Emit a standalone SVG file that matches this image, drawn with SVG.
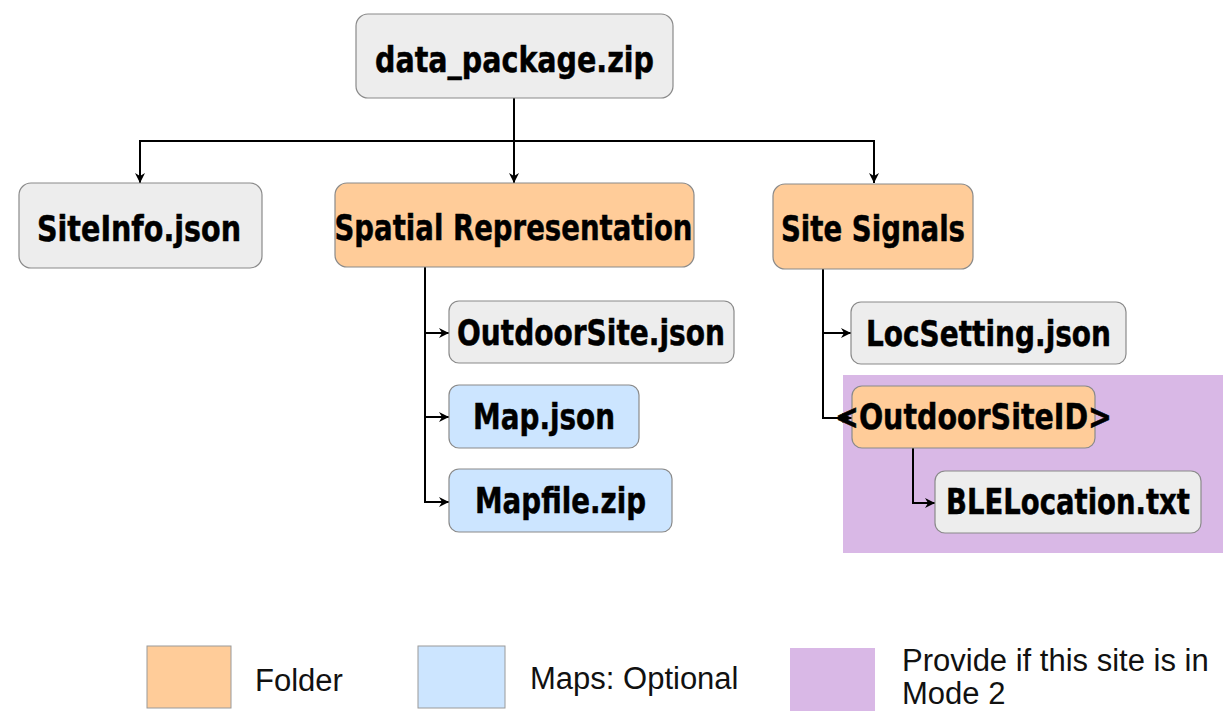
<svg xmlns="http://www.w3.org/2000/svg" width="1223" height="711" viewBox="0 0 1223 711">
<style>
.box{stroke:#8a8a8a;stroke-width:1.2}
.gray{fill:#ededed}
.orange{fill:#ffcc99}
.blue{fill:#cce5ff}
.lbl{font-family:"DejaVu Sans",Verdana,sans-serif;font-weight:bold;font-size:35px;fill:#000;stroke:#000;stroke-width:0.5;text-anchor:middle}
.leg{font-family:"Liberation Sans",Arial,sans-serif;font-size:31px;fill:#111}
.conn{fill:none;stroke:#000;stroke-width:2}
</style>
<defs>
<marker id="arr" markerWidth="12" markerHeight="12" refX="10" refY="5" orient="auto" markerUnits="userSpaceOnUse">
<path d="M0,0 L10,5 L0,10 L3,5 z" fill="#000"/>
</marker>
</defs>
<rect x="0" y="0" width="1223" height="711" fill="#ffffff"/>
<rect id="mode2-region" x="843" y="375" width="380" height="178" fill="#d9b8e6"/>
<g id="connectors">
<path class="conn" d="M514,98 V183" marker-end="url(#arr)"/>
<path class="conn" d="M514,141 H140 V183" marker-end="url(#arr)"/>
<path class="conn" d="M514,141 H874 V183" marker-end="url(#arr)"/>
<path class="conn" d="M425,267 V502 H449" marker-end="url(#arr)"/>
<path class="conn" d="M425,333 H449" marker-end="url(#arr)"/>
<path class="conn" d="M425,417 H449" marker-end="url(#arr)"/>
<path class="conn" d="M823,269 V418 H852" marker-end="url(#arr)"/>
<path class="conn" d="M823,333 H851" marker-end="url(#arr)"/>
<path class="conn" d="M913,448 V503 H935" marker-end="url(#arr)"/>
</g>
<g id="data_package">
<rect class="box gray" x="356" y="14" width="317" height="84" rx="12"/>
<text class="lbl" x="514.5" y="72" textLength="279" lengthAdjust="spacingAndGlyphs">data_package.zip</text>
</g>
<g id="siteinfo">
<rect class="box gray" x="19" y="183" width="243" height="85" rx="12"/>
<text class="lbl" x="139" y="241" textLength="204" lengthAdjust="spacingAndGlyphs">SiteInfo.json</text>
</g>
<g id="spatial">
<rect class="box orange" x="335" y="183" width="359" height="84" rx="12"/>
<text class="lbl" x="513.5" y="240" textLength="358" lengthAdjust="spacingAndGlyphs">Spatial Representation</text>
</g>
<g id="sitesignals">
<rect class="box orange" x="773" y="184" width="200" height="85" rx="12"/>
<text class="lbl" x="873" y="241" textLength="184" lengthAdjust="spacingAndGlyphs">Site Signals</text>
</g>
<g id="outdoorsite">
<rect class="box gray" x="449" y="301" width="285" height="62" rx="10"/>
<text class="lbl" x="591" y="345" textLength="268" lengthAdjust="spacingAndGlyphs">OutdoorSite.json</text>
</g>
<g id="mapjson">
<rect class="box blue" x="449" y="385" width="190" height="63" rx="10"/>
<text class="lbl" x="544" y="429" textLength="142" lengthAdjust="spacingAndGlyphs">Map.json</text>
</g>
<g id="mapfile">
<rect class="box blue" x="449" y="469" width="223" height="63" rx="10"/>
<text class="lbl" x="560.5" y="513" textLength="171" lengthAdjust="spacingAndGlyphs">Mapfile.zip</text>
</g>
<g id="locsetting">
<rect class="box gray" x="851" y="302" width="275" height="62" rx="10"/>
<text class="lbl" x="988.5" y="346" textLength="245" lengthAdjust="spacingAndGlyphs">LocSetting.json</text>
</g>
<g id="outdoorsiteid">
<rect class="box orange" x="852" y="386" width="243" height="62" rx="10"/>
<text class="lbl" x="973.5" y="429" textLength="277" lengthAdjust="spacingAndGlyphs">&lt;OutdoorSiteID&gt;</text>
</g>
<g id="blelocation">
<rect class="box gray" x="935" y="471" width="266" height="62" rx="10"/>
<text class="lbl" x="1068" y="514" textLength="244" lengthAdjust="spacingAndGlyphs">BLELocation.txt</text>
</g>
<g id="legend">
<rect x="147" y="646" width="84" height="62" fill="#ffcc99" stroke="#9a9a9a" stroke-width="1"/>
<text class="leg" x="255" y="691">Folder</text>
<rect x="418" y="646" width="87" height="62" fill="#cce5ff" stroke="#9a9a9a" stroke-width="1"/>
<text class="leg" x="530" y="689">Maps: Optional</text>
<rect x="790" y="648" width="85" height="63" fill="#d9b8e6"/>
<text class="leg" x="902" y="671">Provide if this site is in</text>
<text class="leg" x="902" y="704">Mode 2</text>
</g>
</svg>
